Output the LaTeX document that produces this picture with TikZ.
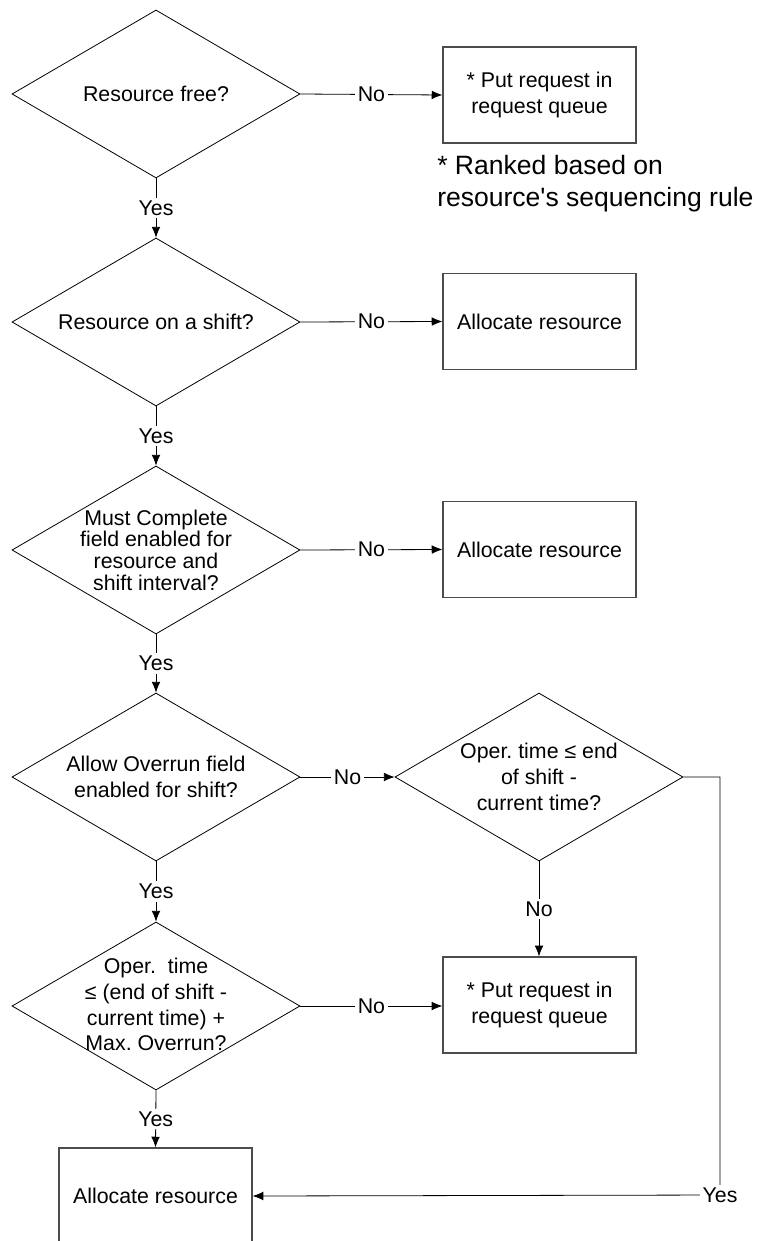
\documentclass[tikz,border=0pt]{standalone}
\usepackage{fontspec}
\setmainfont{Liberation Sans}
\usetikzlibrary{shapes.geometric,arrows.meta}
\frenchspacing
\begin{document}
\begin{tikzpicture}[x=0.75pt,y=-0.75pt,
  base/.style={font=\fontsize{16}{19.3}\selectfont},
  dia/.style={draw=black,line width=0.6pt,diamond,minimum width=216pt,minimum height=126pt,inner sep=0pt},
  dtext/.style={base,align=center,inner sep=0pt},
  procbox/.style={base,draw=black!70,line width=0.9pt,rectangle,minimum width=144.75pt,minimum height=72pt,inner sep=0pt,align=center},
  lbl/.style={base,fill=white,inner sep=2pt},
  arr/.style={line width=0.6pt,-{Latex[length=8pt,width=6.5pt]}},
  plain/.style={line width=0.6pt}
]
\useasboundingbox (0,0) rectangle (758,1241);

% diamonds
\node[dia] (d1) at (156,94) {};
\node[dtext] at (d1.center) {Resource free?};
\node[dia] (d2) at (156,322) {};
\node[dtext] at (d2.center) {Resource on a shift?};
\node[dia] (d3) at (156,550) {};
\node[dtext,font=\fontsize{16}{16.3}\selectfont] at (d3.center) {Must Complete\\field enabled for\\resource and\\shift interval?};
\node[dia] (d4) at (156,777) {};
\node[dtext] at (d4.center) {Allow Overrun field\\enabled for shift?};
\node[dia] (d5) at (156,1006) {};
\node[dtext] at ([yshift=1pt]d5.center) {Oper.\ \ time\\≤ (end of shift -\\current time) +\\Max. Overrun?};
\node[dia] (d6) at (539,777) {};
\node[dtext] at (d6.center) {Oper. time ≤ end\\of shift -\\current time?};

% boxes
\node[procbox] (b1) at (539.5,95) {* Put request in\\request queue};
\node[procbox] (b2) at (539.5,321.5) {Allocate resource};
\node[procbox] (b3) at (539.5,549.5) {Allocate resource};
\node[procbox] (b4) at (539.5,1005) {* Put request in\\request queue};
\node[procbox] (b5) at (155.5,1196) {Allocate resource};

% note
\node[anchor=west,align=left,inner sep=0pt,font=\fontsize{19.9}{24}\selectfont] (note) at (437,184) {* Ranked based on\\resource\textquotesingle s sequencing rule};

% connectors
\draw[arr] (d1.east) -- node[lbl]{No} (b1.west);
\draw[arr] (d2.east) -- node[lbl]{No} (b2.west);
\draw[arr] (d3.east) -- node[lbl]{No} (b3.west);
\draw[arr] (d4.east) -- node[lbl]{No} (d6.west);
\draw[arr] (d5.east) -- node[lbl]{No} (b4.west |- d5.east);
\draw[arr] (d1.south) -- node[lbl]{Yes} (d2.north);
\draw[arr] (d2.south) -- node[lbl]{Yes} (d3.north);
\draw[arr] (d3.south) -- node[lbl]{Yes} (d4.north);
\draw[arr] (d4.south) -- node[lbl]{Yes} (d5.north);
\draw[arr] (d5.south) -- node[lbl]{Yes} (b5.north);
\draw[arr] (d6.south) -- node[lbl]{No} (b4.north -| d6.south);
\coordinate (corner) at (720,1195);
\draw[arr] (d6.east) -| (corner) node[lbl]{Yes} -- (b5.east);
\end{tikzpicture}
\end{document}
